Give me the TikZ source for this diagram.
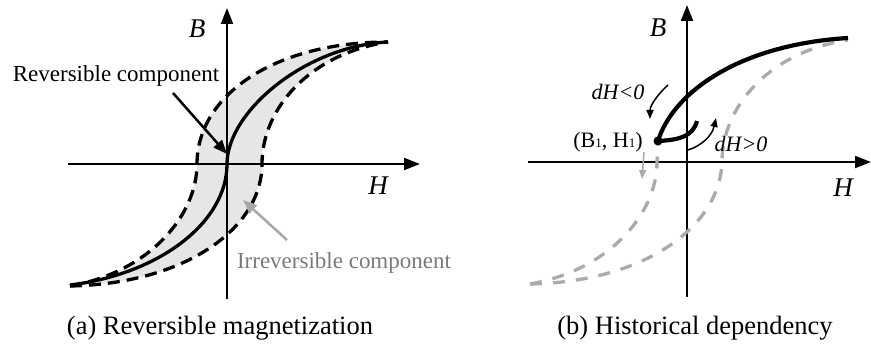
\documentclass[tikz,border=0pt]{standalone}
\usepackage{fontspec}
\setmainfont{Liberation Serif}
\usetikzlibrary{arrows.meta}
\definecolor{fillgray}{HTML}{E6E6E6}
\definecolor{arrgray}{HTML}{A8A8A8}
\definecolor{txtgray}{HTML}{7A7A7A}
\definecolor{dashgray}{HTML}{ABABAB}
\begin{document}
\begin{tikzpicture}[x=1pt,y=-1pt,
  axis/.style={line width=2pt,-{Triangle[length=16pt,width=12pt]}},
  blackdash/.style={line width=3.3pt,dash pattern=on 12pt off 7pt},
  graydash/.style={line width=3.3pt,dash pattern=on 12pt off 11pt,dashgray},
  solidcurve/.style={line width=3.3pt},
  thickcurve/.style={line width=4.2pt},
  pointer/.style={line width=2.5pt,-{Triangle[length=14pt,width=11pt]}},
  smallarrow/.style={line width=1.5pt,-{Triangle[length=9pt,width=7pt]}},
  lbl/.style={font=\fontsize{23}{27}\selectfont,anchor=base,inner sep=0pt},
  captext/.style={font=\fontsize{26.5}{30}\selectfont,anchor=base,inner sep=0pt},
  axlbl/.style={font=\fontsize{27}{30}\selectfont\itshape,anchor=base,inner sep=0pt},
  dhlbl/.style={font=\fontsize{22}{26}\selectfont\itshape,anchor=base,inner sep=0pt},
  ptlbl/.style={font=\fontsize{22}{26}\selectfont,anchor=base,inner sep=0pt}
]
\path[use as bounding box] (0,0) rectangle (871,344);

% ---------- panel (a) ----------
\fill[fillgray] (70,286) .. controls (150,272) and (197,215) .. (197,164)
  .. controls (197,95) and (275,42) .. (388,42)
  .. controls (309,54) and (262,109) .. (262,164)
  .. controls (262,229) and (184,284) .. (70,286) -- cycle;

\coordinate (axHaS) at (68,164);  \coordinate (axHaE) at (420,164);
\coordinate (axBaS) at (227,299); \coordinate (axBaE) at (227,8);
\draw[axis] (axHaS) -- (axHaE);
\draw[axis] (axBaS) -- (axBaE);

\draw[blackdash] (70,286) .. controls (150,272) and (197,215) .. (197,164)
  .. controls (197,95) and (275,42) .. (388,42);
\draw[blackdash] (70,286) .. controls (184,284) and (262,229) .. (262,164)
  .. controls (262,109) and (309,54) .. (388,42);
\draw[solidcurve] (70,285) .. controls (160,274) and (227,222) .. (227,164)
  .. controls (227,112) and (305,46) .. (388,42);

\node[axlbl] (Ba) at (197,38) {B};
\node[axlbl] (Ha) at (378,195) {H};

\node[lbl] (rev) at (116,82) {Reversible component};
\coordinate (revS) at (173,93); \coordinate (revE) at (227,154);
\draw[pointer] (revS) -- (revE);

\node[lbl,text=txtgray] (irr) at (344,269) {Irreversible component};
\coordinate (irrS) at (287,240); \coordinate (irrE) at (243,200);
\draw[pointer,arrgray] (irrS) -- (irrE);

\node[captext] (capa) at (220,335) {(a) Reversible magnetization};

% ---------- panel (b) ----------
\coordinate (axHbS) at (528,162); \coordinate (axHbE) at (871,162);
\coordinate (axBbS) at (687,297); \coordinate (axBbE) at (687,5);
\draw[axis] (axHbS) -- (axHbE);
\draw[axis] (axBbS) -- (axBbE);

\draw[graydash] (530,284) .. controls (644,282) and (720,227) .. (722,162)
  .. controls (722,107) and (769,52) .. (848,40);
\draw[graydash] (530,284) .. controls (610,270) and (657,213) .. (657,162)
  -- (658,143);

\coordinate (P) at (658,141);
\draw[thickcurve] (P) .. controls (672,95) and (735,45) .. (848,38);
\draw[thickcurve] (P) .. controls (680,140) and (693,136) .. (697,121);
\fill (P) circle (4.5);

\coordinate (dnS) at (668,85); \coordinate (dnE) at (650,119);
\draw[smallarrow] (dnS) .. controls (659,93) and (650,105) .. (dnE);
\coordinate (upS) at (688,150); \coordinate (upE) at (716,118);
\draw[smallarrow] (upS) .. controls (701,146) and (712,136) .. (upE);
\coordinate (gS) at (644,152); \coordinate (gE) at (642,179);
\draw[smallarrow,arrgray] (gS) -- (gE);

\node[axlbl] (Bb) at (658,37) {B};
\node[axlbl] (Hb) at (843,197) {H};
\node[dhlbl] (dlt) at (618,100) {dH<0};
\node[dhlbl] (dgt) at (741,152) {dH>0};
\node[ptlbl] (pt) at (608,148) {(B{\fontsize{13}{13}\selectfont 1}, H{\fontsize{13}{13}\selectfont 1})};

\node[captext] (capb) at (695,335) {(b) Historical dependency};
\end{tikzpicture}
\end{document}
